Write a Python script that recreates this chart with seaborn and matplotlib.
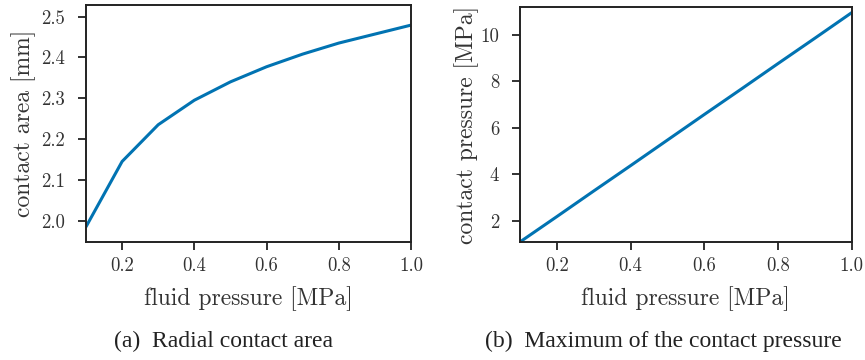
import matplotlib
matplotlib.use("Agg")
import matplotlib.pyplot as plt
import seaborn as sns
import pandas as pd

# fluid pressure steps [MPa]
fluid_pressure = [0.1, 0.2, 0.3, 0.4, 0.5, 0.6, 0.7, 0.8, 0.9, 1.0]
# radial contact area [mm]
contact_area = [1.985, 2.145, 2.235, 2.295, 2.340, 2.377, 2.408, 2.435, 2.457, 2.479]
# maximum contact pressure [MPa]
contact_pressure = [1.10, 2.19, 3.29, 4.38, 5.48, 6.58, 7.67, 8.77, 9.86, 10.96]

x_ticks = [0.2, 0.4, 0.6, 0.8, 1.0]
area_ticks = [2.0, 2.1, 2.2, 2.3, 2.4, 2.5]
pressure_ticks = [2, 4, 6, 8, 10]

sns.set_theme(style="ticks")
plt.rcParams.update({
    "font.family": "serif",
    "font.serif": ["cmr10"],
    "mathtext.fontset": "cm",
    "axes.formatter.use_mathtext": True,
    "axes.unicode_minus": False,
    "axes.edgecolor": "#222222",
    "axes.linewidth": 1.4,
    "xtick.color": "#222222",
    "ytick.color": "#222222",
    "xtick.labelcolor": "#333333",
    "ytick.labelcolor": "#333333",
    "xtick.major.size": 6,
    "ytick.major.size": 6,
    "xtick.major.width": 1.3,
    "ytick.major.width": 1.3,
    "xtick.major.pad": 5,
    "ytick.major.pad": 9,
    "xtick.labelsize": 13.5,
    "ytick.labelsize": 13.5,
    "axes.labelsize": 17.0,
    "axes.labelcolor": "#333333",
})

df = pd.DataFrame({
    "fluid pressure": fluid_pressure,
    "contact area": contact_area,
    "contact pressure": contact_pressure,
})

W, H = 865, 360
fig = plt.figure(figsize=(W / 100, H / 100), dpi=100)
ax1 = fig.add_axes([86 / W, (H - 242.3) / H, (411 - 86) / W, (242.3 - 4.7) / H])
ax2 = fig.add_axes([520 / W, (H - 242.3) / H, (851.7 - 520) / W, (242.3 - 7.3) / H])

blue = "#0173B2"
sns.lineplot(data=df, x="fluid pressure", y="contact area", ax=ax1, color=blue, linewidth=2.2)
sns.lineplot(data=df, x="fluid pressure", y="contact pressure", ax=ax2, color=blue, linewidth=2.2)

ax1.set_xlim(0.1, 1.0)
ax1.set_ylim(1.947, 2.529)
ax1.set_xticks(x_ticks)
ax1.set_yticks(area_ticks)
ax1.set_xticklabels([f"{v:.1f}" for v in x_ticks])
ax1.set_yticklabels([f"{v:.1f}" for v in area_ticks])
ax1.set_xlabel("fluid pressure [MPa]")
ax1.set_ylabel("contact area [mm]")

ax2.set_xlim(0.1, 1.0)
ax2.set_ylim(1.084, 11.19)
ax2.set_xticks(x_ticks)
ax2.set_yticks(pressure_ticks)
ax2.set_xticklabels([f"{v:.1f}" for v in x_ticks])
ax2.set_yticklabels([str(v) for v in pressure_ticks])
ax2.set_xlabel("fluid pressure [MPa]")
ax2.set_ylabel("contact pressure [MPa]")

# axis label placement (axes fraction, centred on the given point)
for ax, ylab_x, h in ((ax1, -0.191, 237.6), (ax2, -0.160, 235.0)):
    ax.xaxis.label.set_va("center")
    ax.yaxis.label.set_va("center")
    ax.xaxis.set_label_coords(0.5, -(299 - 242.3) / h)
    ax.yaxis.set_label_coords(ylab_x, 0.5)

cap_font = dict(family=["Liberation Serif", "DejaVu Serif"], fontsize=17, color="#222222",
                ha="center", va="center")
fig.text(224 / W, 1 - 341 / H, "(a)  Radial contact area", **cap_font)
fig.text(663 / W, 1 - 341 / H, "(b)  Maximum of the contact pressure", **cap_font)

fig.savefig("out.png", dpi=100)
